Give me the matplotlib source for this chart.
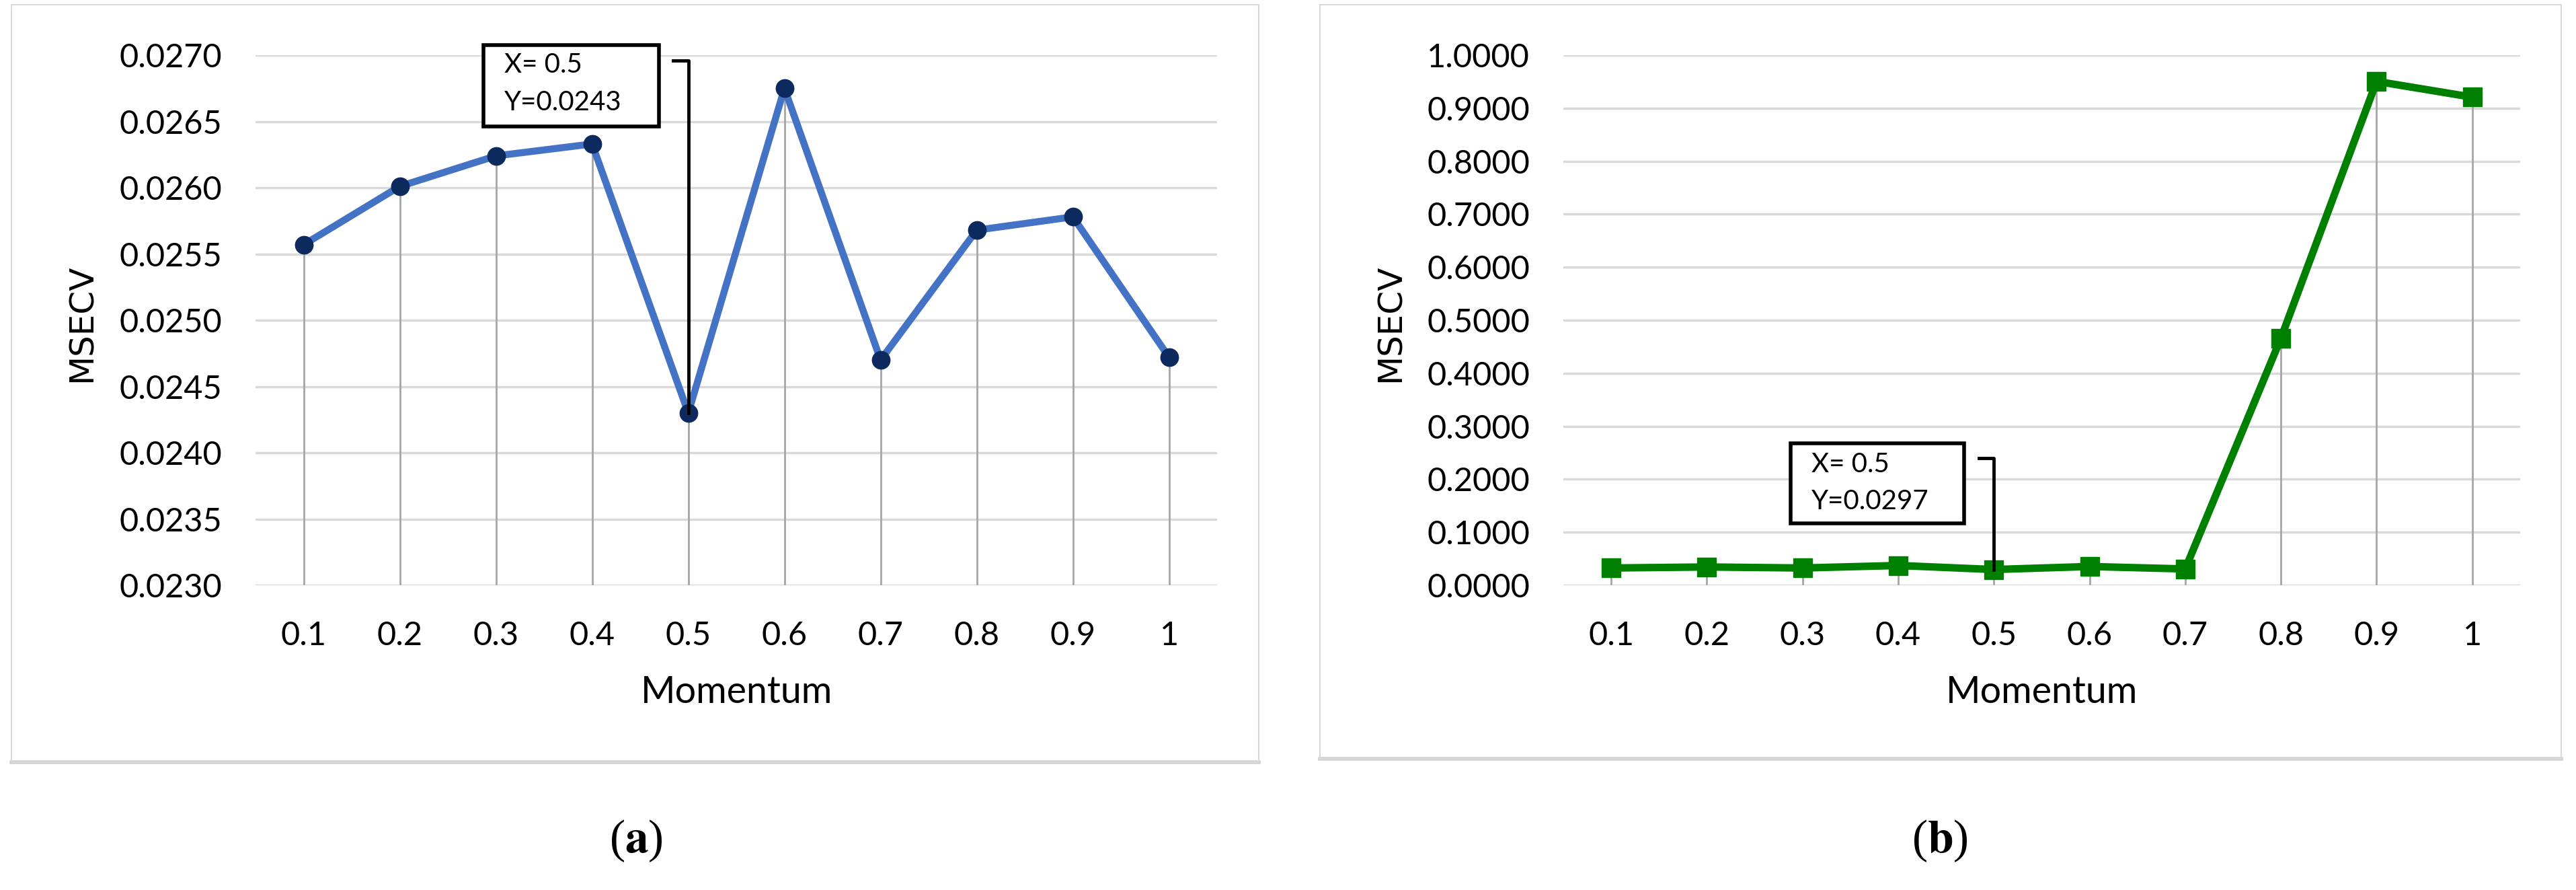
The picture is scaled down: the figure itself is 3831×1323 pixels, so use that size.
import matplotlib
matplotlib.use('Agg')
import matplotlib.pyplot as plt
from matplotlib.patches import Rectangle
from matplotlib.lines import Line2D
import numpy as np

# data
momentum = ['0.1', '0.2', '0.3', '0.4', '0.5', '0.6', '0.7', '0.8', '0.9', '1']
msecv_a = [0.02557, 0.02601, 0.02624, 0.02633, 0.0243, 0.02675, 0.02470, 0.02568, 0.02578, 0.02472]
msecv_b = [0.0326, 0.0345, 0.0326, 0.0373, 0.0297, 0.0354, 0.0308, 0.466, 0.9506, 0.9208]
yticks_a = [0.0230, 0.0235, 0.0240, 0.0245, 0.0250, 0.0255, 0.0260, 0.0265, 0.0270]
yticks_b = [0.0, 0.1, 0.2, 0.3, 0.4, 0.5, 0.6, 0.7, 0.8, 0.9, 1.0]
best_idx = 4

tick_font = 'Lato'

fig = plt.figure(figsize=(38.31, 13.23), dpi=100)

# panel frames
for x0, y0, w, h in [(0.0044, 0.1436, 0.4842, 0.8511), (0.5124, 0.1474, 0.4819, 0.8473)]:
    fig.patches.append(Rectangle((x0, y0), w, h, transform=fig.transFigure, fill=False,
                                 ec='#D9D9D9', lw=1.5, zorder=0))
    fig.lines.append(Line2D([x0, x0 + w], [y0, y0], transform=fig.transFigure,
                            color='#D0D0D0', lw=4, zorder=0))

ax1 = fig.add_axes([0.0992, 0.3424, 0.3733, 0.5956])
ax2 = fig.add_axes([0.6069, 0.3424, 0.3714, 0.5956])


def style(ax, ylim, yticks):
    x = np.arange(len(momentum))
    ax.set_xlim(-0.5, len(momentum) - 0.5)
    ax.set_ylim(*ylim)
    ax.set_yticks(yticks)
    ax.set_yticklabels(['%.4f' % v for v in yticks], fontfamily=tick_font, fontsize=35)
    ax.set_xticks(x)
    ax.set_xticklabels(momentum, fontfamily=tick_font, fontsize=35)
    ax.tick_params(axis='both', length=0)
    ax.tick_params(axis='y', pad=36)
    ax.tick_params(axis='x', pad=38)
    for s in ax.spines.values():
        s.set_visible(False)
    ax.grid(axis='y', color='#D9D9D9', lw=2.5, zorder=0)
    ax.set_axisbelow(True)
    ax.set_xlabel('Momentum', fontfamily=tick_font, fontsize=40)
    ax.xaxis.set_label_coords(0.5, -0.203)
    ax.xaxis.label.set_va('center')
    ax.set_ylabel('MSECV', fontfamily='DejaVu Sans', fontsize=36)
    ax.yaxis.set_label_coords(-0.181, 0.495)
    ax.yaxis.label.set_va('center')
    return x


def callout(ax, x, y, top, stub, box, lines):
    # elbow leader from the label down to the point
    ax.plot([x - stub, x, x], [top, top, y], color='black', lw=3.5, zorder=5, clip_on=False)
    bx0, by0, bx1, by1 = box
    ax.add_patch(Rectangle((bx0, by0), bx1 - bx0, by1 - by0, transform=ax.transAxes,
                           fill=True, fc='white', ec='black', lw=4, zorder=6, clip_on=False))
    for (tx, ty, t) in lines:
        ax.text(tx, ty, t, transform=ax.transAxes, fontfamily=tick_font, fontsize=29,
                va='center', ha='left', zorder=7)


# (a)
x = style(ax1, (0.0230, 0.0270), yticks_a)
ax1.vlines(x, 0.0230, msecv_a, color='#A6A6A6', lw=2, zorder=1)
ax1.plot(x, msecv_a, color='#4472C4', lw=7.5, marker='o', ms=19, mfc='#0D2A5E', mec='#0D2A5E', zorder=3)
callout(ax1, x[best_idx], msecv_a[best_idx], 0.02696, 0.16, (0.237, 0.865, 0.4196, 1.019),
        [(0.259, 0.981, 'X= 0.5'), (0.259, 0.910, 'Y=0.0243')])

# (b)
x = style(ax2, (0.0, 1.0), yticks_b)
ax2.vlines(x, 0.0, msecv_b, color='#A6A6A6', lw=2, zorder=1)
ax2.plot(x, msecv_b, color='#008000', lw=8, marker='s', ms=20, mfc='#008000', mec='#008000', zorder=3)
callout(ax2, x[best_idx], msecv_b[best_idx], 0.24, 0.155, (0.2375, 0.1168, 0.4188, 0.268),
        [(0.2593, 0.2284, 'X= 0.5'), (0.2593, 0.1586, 'Y=0.0297')])

plt.rcParams['mathtext.fontset'] = 'stix'
fig.text(0.2469, 0.0552, r'($\mathbf{a}$)', family='Liberation Serif', fontsize=50, ha='center', va='center')
fig.text(0.7531, 0.0552, r'($\mathbf{b}$)', family='Liberation Serif', fontsize=50, ha='center', va='center')

fig.savefig('out.png', dpi=100)
